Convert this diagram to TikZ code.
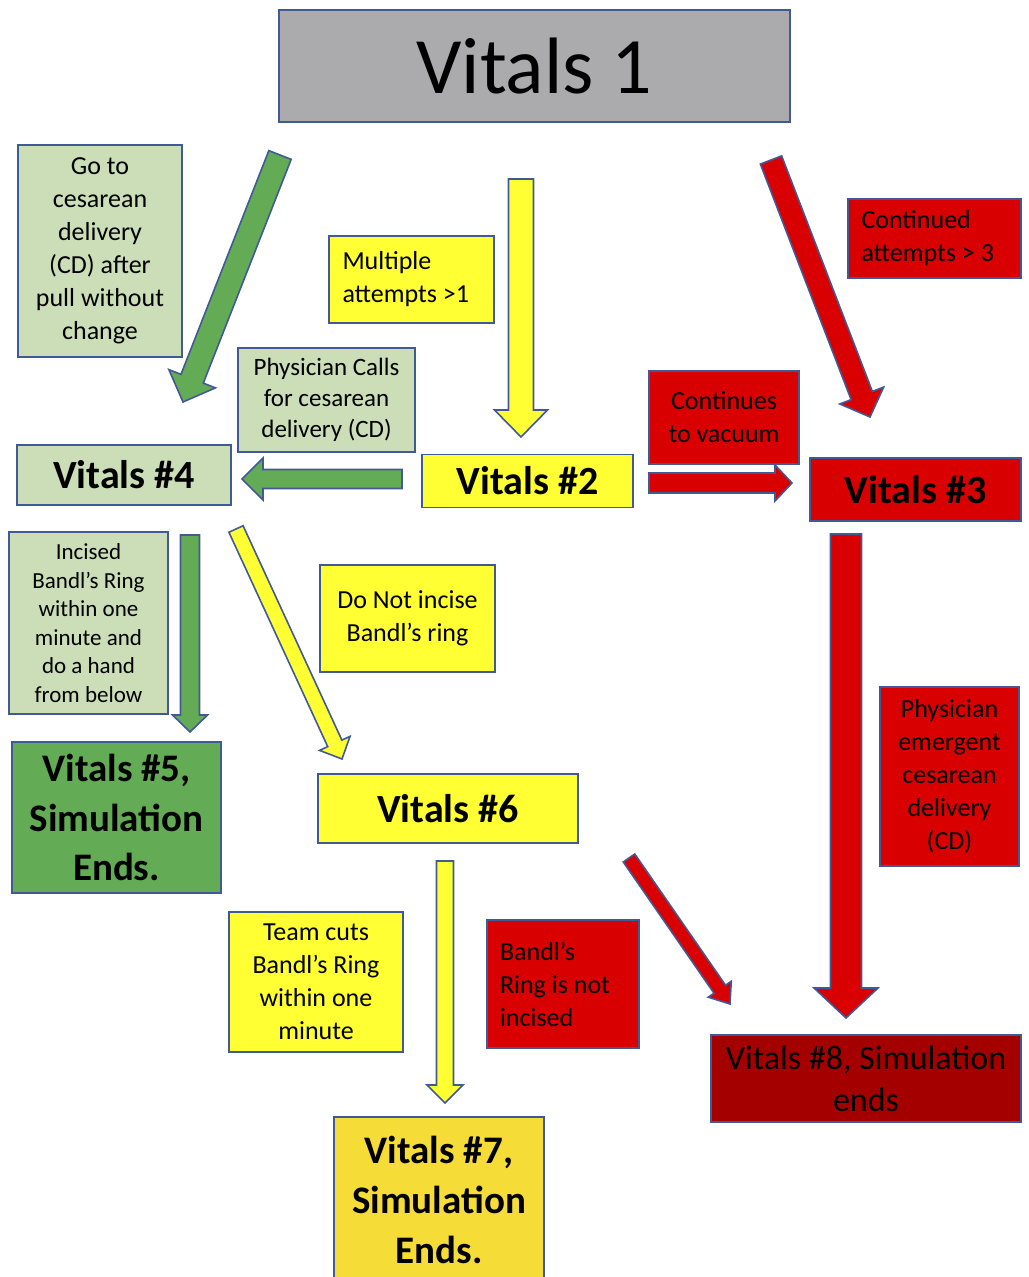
\documentclass[tikz,border=0pt]{standalone}
\usepackage{fontspec}
\setmainfont{Carlito}
\usetikzlibrary{calc}

\definecolor{boxline}{RGB}{65,90,150}
\definecolor{vgray}{RGB}{171,170,172}
\definecolor{lightgreen}{RGB}{204,222,183}
\definecolor{vgreen}{RGB}{99,171,85}
\definecolor{vyellow}{RGB}{255,255,51}
\definecolor{vgold}{RGB}{245,220,55}
\definecolor{vred}{RGB}{216,0,0}
\definecolor{vdarkred}{RGB}{165,0,0}

\tikzset{
  box/.style={draw=boxline, line width=0.8pt, inner sep=0pt, align=center},
  note/.style={box, font=\fontsize{13}{16.5}\selectfont},
  leftnote/.style={note, align=flush left},
  vitals/.style={box, font=\fontsize{20}{25}\selectfont\bfseries},
  barrow/.style={draw=boxline, line width=0.8pt},
}

% block arrow: [fill] {from} {to} {half shaft} {half head} {head length}
\newcommand{\fatarrow}[6][]{%
  \filldraw[barrow,#1] ($(#2)!#4!90:(#3)$) -- ($(#3)!#6!(#2)!#4!-90:(#2)$)
    -- ($(#3)!#6!(#2)!#5!-90:(#2)$) -- (#3) -- ($(#3)!#6!(#2)!#5!90:(#2)$)
    -- ($(#3)!#6!(#2)!#4!90:(#2)$) -- ($(#2)!#4!-90:(#3)$) -- cycle;}

\begin{document}
\begin{tikzpicture}[x=0.5pt, y=-0.5pt]
  \useasboundingbox (0,0) rectangle (1028,1277);

  % Start
  \node[box, fill=vgray, minimum width=255.5pt, minimum height=56pt,
        font=\fontsize{40}{48}\selectfont] (vitals1) at (534.5,66) {Vitals 1};

  % Vitals boxes
  \node[vitals, fill=lightgreen, minimum width=107pt, minimum height=30pt] (vitals4) at (124,475) {Vitals \#4};
  \node[vitals, fill=vyellow, minimum width=105.5pt, minimum height=26.5pt] (vitals2) at (527.5,481) {Vitals \#2};
  \node[vitals, fill=vred, minimum width=105.5pt, minimum height=31.5pt] (vitals3) at (915.5,489.5) {Vitals \#3};
  \node[vitals, fill=vgreen, minimum width=104.5pt, minimum height=75.5pt,
        font=\fontsize{19.5}{24.8}\selectfont\bfseries] (vitals5) at (116.5,817.5) {Vitals \#5,\\Simulation\\Ends.};
  \node[vitals, fill=vyellow, minimum width=130pt, minimum height=34.5pt] (vitals6) at (448,808.5) {Vitals \#6};
  \node[vitals, fill=vgold, minimum width=105pt, minimum height=83pt,
        font=\fontsize{19.5}{24.8}\selectfont\bfseries] (vitals7) at (439,1200) {Vitals \#7,\\Simulation\\Ends.};
  \node[box, fill=vdarkred, minimum width=155pt, minimum height=43.5pt,
        font=\fontsize{17}{21}\selectfont] (vitals8) at (866,1078.5) {Vitals \#8, Simulation\\ends};

  % Labels
  \node[note, fill=lightgreen, minimum width=82pt, minimum height=106pt] (gocd) at (100,251)
    {Go to\\cesarean\\delivery\\(CD) after\\pull without\\change};
  \node[leftnote, fill=vyellow, minimum width=82.5pt, minimum height=43.5pt, text width=69pt]
    (multiple) at (411.5,279.5) {Multiple\\attempts >1};
  \node[note, fill=lightgreen, minimum width=88.5pt, minimum height=52pt,
        font=\fontsize{12.5}{15.5}\selectfont] (callscd) at (326.5,400) {Physician Calls\\for cesarean\\delivery (CD)};
  \node[note, fill=vred, minimum width=75pt, minimum height=46.5pt] (vacuum) at (724,417.5) {Continues\\to vacuum};
  \node[leftnote, fill=vred, minimum width=86.5pt, minimum height=39.5pt, text width=73pt]
    (continued) at (934.5,238.5) {Continued\\attempts > 3};
  \node[note, fill=lightgreen, minimum width=79.5pt, minimum height=91pt,
        font=\fontsize{11.5}{14.3}\selectfont] (incised) at (88.5,623)
    {Incised\\Bandl’s Ring\\within one\\minute and\\do a hand\\from below};
  \node[note, fill=vyellow, minimum width=87.5pt, minimum height=53.5pt] (donot) at (407.5,618.5) {Do Not incise\\Bandl’s ring};
  \node[note, fill=vred, minimum width=69.5pt, minimum height=89.5pt] (emergent) at (949.5,776.5)
    {Physician\\emergent\\cesarean\\delivery\\(CD)};
  \node[note, fill=vyellow, minimum width=87pt, minimum height=70pt] (teamcuts) at (316,982)
    {Team cuts\\Bandl’s Ring\\within one\\minute};
  \node[leftnote, fill=vred, minimum width=76pt, minimum height=64pt, text width=63pt]
    (notincised) at (563,984) {Bandl’s\\Ring is not\\incised};

  % Arrow ends
  \coordinate (a1s) at (280,155);  \coordinate (a1e) at (183,402);
  \coordinate (a2s) at (521,179);  \coordinate (a2e) at (521,437);
  \coordinate (a3s) at (402,479);  \coordinate (a3e) at (242,479);
  \coordinate (a4s) at (649,483);  \coordinate (a4e) at (792,483);
  \coordinate (a5s) at (771,160);  \coordinate (a5e) at (870,417);
  \coordinate (a6s) at (190,535);  \coordinate (a6e) at (190,732);
  \coordinate (a7s) at (236,529);  \coordinate (a7e) at (342,759);
  \coordinate (a8s) at (846,534);  \coordinate (a8e) at (846,1018);
  \coordinate (a9s) at (629,858);  \coordinate (a9e) at (730,1004);
  \coordinate (a10s) at (445,861); \coordinate (a10e) at (445,1103);

  % Arrows
  \fatarrow[fill=vgreen]{a1s}{a1e}{6pt}{12.5pt}{12.5pt}
  \fatarrow[fill=vyellow]{a2s}{a2e}{6.25pt}{13.25pt}{13.5pt}
  \fatarrow[fill=vgreen]{a3s}{a3e}{4.75pt}{10.5pt}{10.5pt}
  \fatarrow[fill=vred]{a4s}{a4e}{5pt}{9pt}{8.5pt}
  \fatarrow[fill=vred]{a5s}{a5e}{5.7pt}{11.75pt}{11.5pt}
  \fatarrow[fill=vgreen]{a6s}{a6e}{4.75pt}{8.75pt}{8.5pt}
  \fatarrow[fill=vyellow]{a7s}{a7e}{3.9pt}{8.4pt}{8.6pt}
  \fatarrow[fill=vred]{a8s}{a8e}{7.75pt}{16pt}{15pt}
  \fatarrow[fill=vred]{a9s}{a9e}{3.5pt}{7pt}{9pt}
  \fatarrow[fill=vyellow]{a10s}{a10e}{4.25pt}{9pt}{9pt}
\end{tikzpicture}
\end{document}
